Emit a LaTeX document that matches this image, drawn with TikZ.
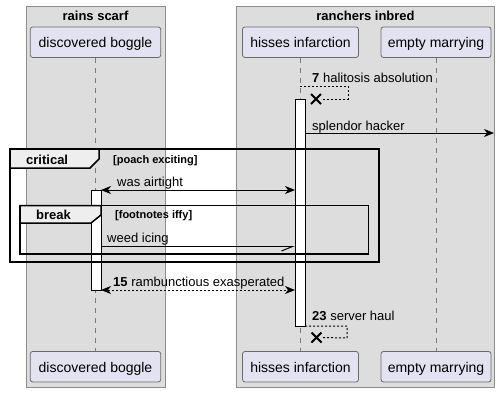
\documentclass[tikz,border=0pt]{standalone}
\usepackage{fontspec}
\setmainfont{Liberation Sans}
\usetikzlibrary{positioning, arrows.meta}

\definecolor{grpfill}{HTML}{DDDDDD}
\definecolor{grpline}{HTML}{8C8C8C}
\definecolor{partfill}{HTML}{E2E2F0}
\definecolor{partline}{HTML}{6A6A6A}
\definecolor{lifeline}{HTML}{7A7A7A}
\definecolor{tabfill}{HTML}{EEEEEE}

\begin{document}
\begin{tikzpicture}[x=1pt,y=-1pt,>={Stealth[length=10pt,width=8pt,inset=3pt]},
    grp/.style={draw=grpline,fill=grpfill,line width=1pt},
    ttl/.style={anchor=base,inner sep=0pt,font=\fontsize{13}{15}\selectfont\bfseries},
    part/.style={draw=partline,fill=partfill,rounded corners=2.5pt,line width=0.8pt,
        inner sep=0pt,minimum height=30.5pt,text height=14pt,text depth=3pt,
        font=\fontsize{14}{16}\selectfont},
    life/.style={draw=lifeline,dash pattern=on 5pt off 5pt,line width=0.8pt},
    act/.style={draw=black,fill=white,line width=1pt},
    msg/.style={draw=black,line width=1pt},
    reply/.style={msg,dash pattern=on 2pt off 2pt},
    lbl/.style={anchor=base west,inner sep=0pt,font=\fontsize{13}{15}\selectfont},
    frm/.style={draw=black,line width=1.5pt},
    tab/.style={draw=black,fill=tabfill,line width=1.5pt},
    cond/.style={anchor=base west,inner sep=0pt,font=\fontsize{11}{13}\selectfont\bfseries},
    kill/.style={draw=black,line width=2pt}]
    \useasboundingbox (0,0) rectangle (500,392);

    % boxes
    \draw[grp] (26,6) rectangle (165,387);
    \draw[grp] (236,6) rectangle (494.5,387);
    \node[ttl] (rains) at (95.5,20) {rains scarf};
    \node[ttl] (ranchers) at (365.5,20) {ranchers inbred};

    % participants
    \node[part,minimum width=130.5pt] (bogT) at (95.5,42.2) {discovered boggle};
    \node[part,minimum width=116pt] (hisT) at (300.5,42.2) {hisses infarction};
    \node[part,minimum width=110pt] (empT) at (436,42.2) {empty marrying};
    \node[part,minimum width=130.5pt] (bogB) at (95.5,366.7) {discovered boggle};
    \node[part,minimum width=116pt] (hisB) at (300.5,366.7) {hisses infarction};
    \node[part,minimum width=110pt] (empB) at (436,366.7) {empty marrying};

    \draw[life] (bogT) -- (bogB);
    \draw[life] (hisT) -- (hisB);
    \draw[life] (empT) -- (empB);

    % activations
    \draw[act] (295,99) rectangle (305,326);
    \draw[act] (91,190) rectangle (101,290);

    % message ends
    \coordinate (h7) at (300,86);
    \coordinate (x7) at (316,99);
    \coordinate (h9) at (305,133);
    \coordinate (out) at (494,133);
    \coordinate (b11) at (101,190);
    \coordinate (h11) at (295,190);
    \coordinate (b13) at (101,246.5);
    \coordinate (h13) at (295,246.5);
    \coordinate (b15) at (101,290);
    \coordinate (h15) at (295,290);
    \coordinate (h23) at (305,326);
    \coordinate (x23) at (316.5,337.5);

    % self message 7
    \draw[reply] (h7) -- (348,86) -- (348,99) -- ([xshift=5pt]x7);
    \draw[kill] ([shift={(-5,-5)}]x7) -- ([shift={(5,5)}]x7)
                ([shift={(-5,5)}]x7) -- ([shift={(5,-5)}]x7);
    \node[lbl] (l7) at (312,82) {\textbf{7} halitosis absolution};

    \draw[msg,->] (h9) -- (out);
    \node[lbl] (l9) at (312,130) {splendor hacker};

    % critical
    \draw[frm] (10,149) rectangle (379,262);
    \draw[tab] (10,149) -- (99,149) -- (99,159) -- (90,168) -- (10,168) -- cycle;
    \node[ttl,anchor=base west] (crit) at (26,164) {critical};
    \node[cond] (c1) at (113,163) {[poach exciting]};

    \draw[msg,<->] (b11) -- (h11);
    \node[lbl] (l11) at (117,186) {was airtight};

    % break
    \draw[frm] (20,205.5) rectangle (368.5,254);
    \draw[tab] (20,205.5) -- (101,205.5) -- (101,215) -- (91,223) -- (20,223) -- cycle;
    \node[ttl,anchor=base west] (brk) at (36,219.5) {break};
    \node[cond] (c2) at (115,218.5) {[footnotes iffy]};

    \draw[msg,-{Straight Barb[right,length=11pt,width=9pt]}] (b13) -- (h13);
    \node[lbl] (l13) at (107,242) {weed icing};

    \draw[reply,<->] (b15) -- (h15);
    \node[lbl] (l15) at (113,286) {\textbf{15} rambunctious exasperated};

    % self message 23
    \draw[reply] (h23) -- (347,326) -- (347,338) -- ([xshift=5pt]x23);
    \draw[kill] ([shift={(-5,-5)}]x23) -- ([shift={(5,5)}]x23)
                ([shift={(-5,5)}]x23) -- ([shift={(5,-5)}]x23);
    \node[lbl] (l23) at (312,320) {\textbf{23} server haul};
\end{tikzpicture}
\end{document}
